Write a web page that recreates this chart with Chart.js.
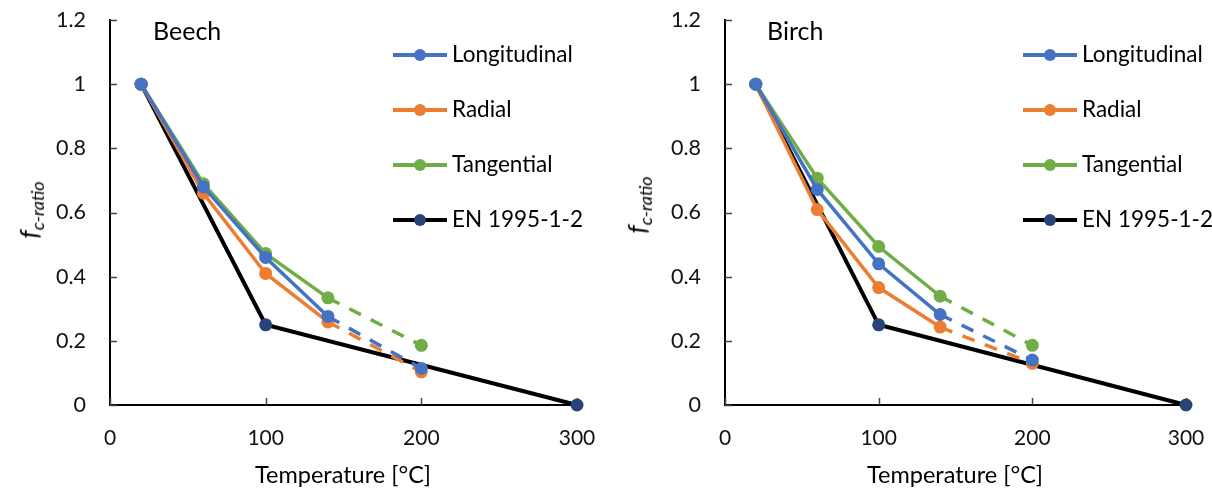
<!DOCTYPE html>
<html lang="en">
<head>
    <meta charset="UTF-8">
    <title>Compression strength ratio vs temperature</title>
    <script src="https://cdn.jsdelivr.net/npm/chart.js"></script>
    <style>
        body { margin: 0; background: #fff; font-family: Lato, "Open Sans", sans-serif; color: #000; }
        #wrap { position: relative; width: 1212px; height: 492px; }
        .panel { position: absolute; top: 0; width: 606px; height: 492px; }
        .panel canvas { position: absolute; left: 0; top: 0; }
        .title { position: absolute; font-size: 25px; top: 15px; }
        .xtitle { position: absolute; top: 460px; font-size: 23.5px; transform: translateX(-50%); white-space: nowrap; }
        .ytitle { position: absolute; font-size: 26px; font-style: italic; white-space: nowrap;
                  transform: translate(-50%, -50%) rotate(-90deg); }
        .ytitle sub { font-size: 18px; }
        .legend { position: absolute; top: 0; }
        .row { position: absolute; left: 0; height: 0; white-space: nowrap; }
        .row .ln { position: absolute; left: 0; top: -2px; width: 54px; height: 4px; }
        .row .dot { position: absolute; left: 21px; top: -6px; width: 12px; height: 12px; border-radius: 50%; }
        .row .txt { position: absolute; left: 59px; top: -15px; font-size: 22.5px; line-height: 28px; }
    </style>
</head>
<body>
<div id="wrap">
    <div class="panel" style="left:0">
        <canvas id="beechChart" width="606" height="492"></canvas>
        <div class="title" style="left:153px">Beech</div>
        <div class="ytitle" style="left:30px; top:210px">f<sub>c-ratio</sub></div>
        <div class="xtitle" style="left:343px">Temperature [°C]</div>
        <div class="legend" id="legendBeech" style="left:393px"></div>
    </div>
    <div class="panel" style="left:606px">
        <canvas id="birchChart" width="606" height="492"></canvas>
        <div class="title" style="left:161px">Birch</div>
        <div class="ytitle" style="left:32px; top:205px">f<sub>c-ratio</sub></div>
        <div class="xtitle" style="left:349px">Temperature [°C]</div>
        <div class="legend" id="legendBirch" style="left:417px"></div>
    </div>
</div>

<script>
    // temperatures of the test series and the EN 1995-1-2 reduction curve
    const tempX = [20, 60, 100, 140, 200];
    const enX = [20, 100, 300];
    const enVal = [1, 0.25, 0];

    // Beech
    const beechLong = [1, 0.68, 0.46, 0.276, 0.114];
    const beechRad = [1, 0.66, 0.41, 0.259, 0.103];
    const beechTan = [1, 0.69, 0.472, 0.334, 0.186];

    // Birch
    const birchLong = [1, 0.672, 0.44, 0.282, 0.14];
    const birchRad = [1, 0.609, 0.366, 0.243, 0.13];
    const birchTan = [1, 0.707, 0.494, 0.339, 0.186];

    const seriesNames = ['Longitudinal', 'Radial', 'Tangential', 'EN 1995-1-2'];
    const xTicks = [0, 100, 200, 300];
    const yTickLabels = ['0', '0.2', '0.4', '0.6', '0.8', '1', '1.2'];

    const colors = ['#4472C4', '#ED7D31', '#70AD47', '#000000'];
    const markerColors = ['#4472C4', '#ED7D31', '#70AD47', '#264478'];

    const toPts = (xs, ys) => xs.map((x, i) => ({ x: x, y: ys[i] }));

    // after 140 °C the test series continue as dashed lines
    const dashAfter = 140;

    // inward tick marks, like the original spreadsheet chart
    const innerTicks = {
        id: 'innerTicks',
        beforeDatasetsDraw(chart) {
            const ctx = chart.ctx;
            const xs = chart.scales.x, ys = chart.scales.y;
            const a = chart.chartArea;
            ctx.save();
            ctx.strokeStyle = '#444';
            ctx.lineWidth = 1.5;
            ctx.beginPath();
            ys.ticks.forEach(t => {
                const py = Math.round(ys.getPixelForValue(t.value)) + 0.5;
                ctx.moveTo(a.left, py);
                ctx.lineTo(a.left + 7, py);
            });
            xs.ticks.forEach(t => {
                const px = Math.round(xs.getPixelForValue(t.value)) + 0.5;
                ctx.moveTo(px, a.bottom);
                ctx.lineTo(px, a.bottom - 7);
            });
            ctx.stroke();
            ctx.restore();
        }
    };

    function makeDatasets(longV, radV, tanV) {
        const sets = [longV, radV, tanV].map((vals, i) => ({
            label: seriesNames[i],
            data: toPts(tempX, vals),
            showLine: true,
            clip: false,
            borderColor: colors[i],
            backgroundColor: markerColors[i],
            borderWidth: 3.5,
            pointRadius: 6.5,
            pointBorderWidth: 0,
            pointBackgroundColor: markerColors[i],
            segment: {
                borderDash: ctx => ctx.p0.parsed.x >= dashAfter ? [13, 11] : undefined
            }
        }));
        sets.push({
            label: seriesNames[3],
            data: toPts(enX, enVal),
            showLine: true,
            clip: false,
            borderColor: colors[3],
            backgroundColor: markerColors[3],
            borderWidth: 4,
            pointRadius: 6.5,
            pointBorderWidth: 0,
            pointBackgroundColor: markerColors[3]
        });
        return sets;
    }

    function makeChart(id, datasets, yWidth, padRight) {
        return new Chart(document.getElementById(id), {
            type: 'scatter',
            data: { datasets: datasets },
            plugins: [innerTicks],
            options: {
                responsive: false,
                animation: false,
                layout: { padding: { left: 0, right: padRight, top: 20, bottom: 0 } },
                plugins: { legend: { display: false }, tooltip: { enabled: false } },
                scales: {
                    x: {
                        type: 'linear', min: 0, max: 300,
                        afterBuildTicks: s => { s.ticks = xTicks.map(v => ({ value: v })); },
                        afterFit: s => { s.height = 87; s.paddingLeft = 0; s.paddingRight = 0; },
                        grid: { display: false, drawTicks: false },
                        border: { display: true, color: '#000', width: 2 },
                        ticks: { color: '#111', padding: 21, font: { family: 'Lato', size: 21 } }
                    },
                    y: {
                        type: 'linear', min: 0, max: 1.2,
                        ticks: {
                            stepSize: 0.2, color: '#111', padding: 24,
                            font: { family: 'Lato', size: 21.5 },
                            callback: (v, i) => yTickLabels[i]
                        },
                        afterFit: s => { s.width = yWidth; s.paddingTop = 0; s.paddingBottom = 0; },
                        grid: { display: false, drawTicks: false },
                        border: { display: true, color: '#000', width: 2 }
                    }
                }
            }
        });
    }

    function buildLegend(id) {
        const box = document.getElementById(id);
        const rowsY = [55, 110, 165, 220];
        seriesNames.forEach((name, i) => {
            const row = document.createElement('div');
            row.className = 'row';
            row.style.top = rowsY[i] + 'px';
            row.innerHTML = '<div class="ln" style="background:' + colors[i] + '"></div>' +
                '<div class="dot" style="background:' + markerColors[i] + '"></div>' +
                '<div class="txt">' + name + '</div>';
            box.appendChild(row);
        });
    }

    makeChart('beechChart', makeDatasets(beechLong, beechRad, beechTan), 110, 29);
    makeChart('birchChart', makeDatasets(birchLong, birchRad, birchTan), 119, 26);
    buildLegend('legendBeech');
    buildLegend('legendBirch');
</script>
</body>
</html>
